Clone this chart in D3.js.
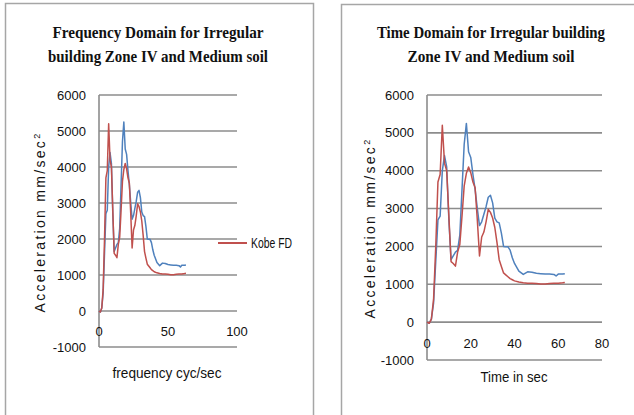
<!DOCTYPE html>
<html>
<head>
<meta charset="utf-8">
<script src="https://cdn.jsdelivr.net/npm/d3@7"></script>
<style>
  body { margin: 0; background: #fff; }
  svg { display: block; }
  text { font-family: "Liberation Sans", Arial, sans-serif; fill: #111; }
  .title { font-family: "Liberation Serif", "DejaVu Serif", serif; font-weight: bold; font-size: 16px; }
</style>
</head>
<body>
<svg id="chart" width="634" height="415"></svg>
<script>
// time / frequency samples (shared by both series)
const t = [0, 1, 2, 3, 4, 5, 6, 7, 8, 9, 10, 11, 12, 13, 14, 15, 16, 17, 18, 19, 20,
  21, 22, 23, 24, 25, 26, 27, 28, 29, 30, 31, 32, 33, 34, 35, 36, 37, 38, 39, 40,
  42, 44, 46, 48, 50, 52, 54, 56, 58, 59, 60, 62, 63];

// blue series
const blueVals = [0, -30, 80, 500, 1600, 2700, 2800, 4000, 4400, 4100, 2700, 1650, 1750, 1850, 1900, 2300,
  3500, 4700, 5250, 4500, 4350, 3900, 3500, 3000, 2550, 2650, 2850, 3050, 3300, 3350, 3150,
  2750, 2650, 2620, 2350, 2000, 1990, 1990, 1900, 1700, 1550,
  1350, 1260, 1330, 1320, 1290, 1280, 1270, 1270, 1260, 1220, 1270, 1270, 1280];

// red series (Kobe FD)
const redVals = [0, -30, 80, 600, 2000, 3700, 3900, 5200, 4200, 4000, 2800, 1600, 1550, 1480, 1850, 2050,
  2800, 3600, 3930, 4100, 3950, 3700, 3550, 2700, 1750, 2250, 2380, 2650, 2980, 2900, 2750,
  2500, 2100, 1650, 1470, 1300, 1250, 1200, 1150, 1120, 1090,
  1060, 1040, 1030, 1030, 1020, 1010, 1010, 1020, 1030, 1030, 1030, 1040, 1050];

const yTicks = [-1000, 0, 1000, 2000, 3000, 4000, 5000, 6000];
const freqTicks = [0, 50, 100];
const timeTicks = [0, 20, 40, 60, 80];
const legendLabel = 'Kobe FD';

const svg = d3.select('#chart');

// panel frames
svg.append('rect').attr('x', 5.5).attr('y', 3.5).attr('width', 308).attr('height', 420)
  .attr('fill', 'none').attr('stroke', '#a6a6a6').attr('stroke-width', 1.5);
svg.append('rect').attr('x', 341.5).attr('y', 4.5).attr('width', 320).attr('height', 420)
  .attr('fill', 'none').attr('stroke', '#a6a6a6').attr('stroke-width', 1.5);

function drawPanel(cfg) {
  const g = svg.append('g');
  const x = d3.scaleLinear().domain(cfg.xDomain).range([cfg.left, cfg.right]);
  const y = d3.scaleLinear().domain([-1000, 6000]).range([cfg.bottom, cfg.top]);

  // titles
  cfg.title.forEach((line, i) => {
    g.append('text').attr('class', 'title')
      .attr('x', cfg.titleX).attr('y', cfg.titleY + i * 24)
      .attr('text-anchor', 'middle')
      .attr('textLength', cfg.titleW[i]).attr('lengthAdjust', 'spacingAndGlyphs')
      .text(line);
  });

  // gridlines
  g.selectAll('line.grid')
    .data(yTicks)
    .enter()
    .append('line')
    .classed('grid', true)
    .attr('x1', cfg.left).attr('x2', cfg.right)
    .attr('y1', d => y(d)).attr('y2', d => y(d))
    .style('stroke', '#8c8c8c')
    .style('stroke-width', 1.6);

  // vertical axis
  g.append('line')
    .attr('x1', x(0)).attr('x2', x(0))
    .attr('y1', y(6000)).attr('y2', y(-1000))
    .style('stroke', '#8c8c8c').style('stroke-width', 1.6);

  // y tick labels
  g.selectAll('text.ytick')
    .data(yTicks)
    .enter()
    .append('text')
    .classed('ytick', true)
    .attr('x', cfg.left - 13)
    .attr('y', d => y(d))
    .attr('dy', '0.35em')
    .attr('text-anchor', 'end')
    .style('font-size', '13px')
    .text(d => d);

  // x tick labels, placed between 0 and -1000
  g.selectAll('text.xtick')
    .data(cfg.xTicks)
    .enter()
    .append('text')
    .classed('xtick', true)
    .attr('x', d => x(d))
    .attr('y', (y(0) + y(-1000)) / 2 + 2)
    .attr('dy', '0.35em')
    .attr('text-anchor', 'middle')
    .style('font-size', '13px')
    .text(d => d);

  // series
  const line = d3.line().x(d => x(d[0])).y(d => y(d[1]));
  [[blueVals, '#4f81bd'], [redVals, '#c0504d']].forEach(([vals, col]) => {
    g.append('path')
      .datum(t.map((v, i) => [v, vals[i]]))
      .attr('d', line)
      .attr('fill', 'none')
      .attr('stroke', col)
      .attr('stroke-width', 1.5)
      .attr('stroke-linejoin', 'round');
  });

  // y axis title
  const yt = g.append('text')
    .attr('transform', `translate(${cfg.yTitleX},${cfg.yTitleY}) rotate(-90)`)
    .attr('text-anchor', 'middle')
    .attr('dy', '0.35em')
    .style('font-size', '14px')
    .style('letter-spacing', '2.3px');
  yt.append('tspan').text('Acceleration mm/sec');
  yt.append('tspan').attr('baseline-shift', 'super').style('font-size', '9px').text('2');

  // x axis title
  g.append('text')
    .attr('x', cfg.xTitleX).attr('y', cfg.xTitleY)
    .attr('dy', '0.35em')
    .attr('text-anchor', 'middle')
    .attr('textLength', cfg.xTitleW).attr('lengthAdjust', 'spacingAndGlyphs')
    .style('font-size', '14px')
    .text(cfg.xTitle);

  if (cfg.legend) {
    g.append('line')
      .attr('x1', 218).attr('x2', 247).attr('y1', 243).attr('y2', 243)
      .style('stroke', '#c0504d').style('stroke-width', 2);
    g.append('text')
      .attr('x', 251).attr('y', 243).attr('dy', '0.35em')
      .attr('textLength', 41).attr('lengthAdjust', 'spacingAndGlyphs')
      .style('font-size', '14px')
      .text(legendLabel);
  }
}

drawPanel({
  xDomain: [0, 100], left: 99, right: 237, top: 95, bottom: 347,
  xTicks: freqTicks,
  title: ['Frequency Domain for  Irregular', 'building Zone IV and Medium soil'],
  titleX: 158, titleY: 38, titleW: [211, 220],
  yTitleX: 40, yTitleY: 222,
  xTitle: 'frequency cyc/sec', xTitleX: 167, xTitleY: 373, xTitleW: 109,
  legend: true
});

drawPanel({
  xDomain: [0, 80], left: 427, right: 602, top: 95, bottom: 360,
  xTicks: timeTicks,
  title: ['Time Domain for Irregular building', 'Zone IV and Medium soil'],
  titleX: 491, titleY: 38, titleW: [228, 167],
  yTitleX: 370, yTitleY: 228,
  xTitle: 'Time in sec', xTitleX: 514, xTitleY: 377, xTitleW: 67,
  legend: false
});
</script>
</body>
</html>
